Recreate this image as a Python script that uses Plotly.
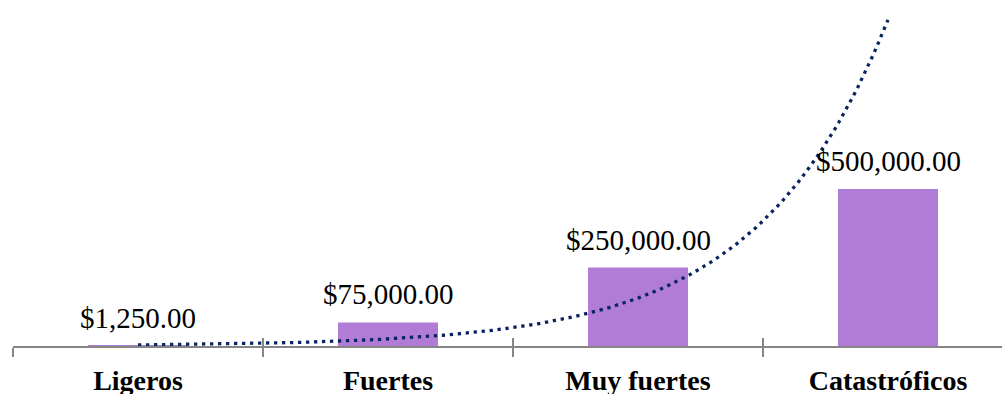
import numpy as np
import plotly.graph_objects as go

categories = ["Ligeros", "Fuertes", "Muy fuertes", "Catastróficos"]
values = [1250, 75000, 250000, 500000]
value_labels = ["$1,250.00", "$75,000.00", "$250,000.00", "$500,000.00"]
boundaries = [-0.5, 0.5, 1.5, 2.5, 3.5]

xpos = np.arange(len(categories))

# Exponential trendline (least squares on log values), as Excel computes it
b, ln_a = np.polyfit(xpos + 1, np.log(values), 1)
xt = np.linspace(0, len(categories) - 1, 200)
yt = np.exp(ln_a + b * (xt + 1))

FONT = "Liberation Serif"
GRAY = "#868686"
xrange_ = [-0.5, 3.456]
yrange_ = [0, 1101900]

fig = go.Figure()
fig.add_trace(go.Bar(x=xpos, y=values, width=0.4, marker=dict(color="#B07CD6", line=dict(width=0)),
                     showlegend=False, hoverinfo="skip"))
fig.add_trace(go.Scatter(x=xt, y=yt, mode="lines", xaxis="x2",
                         line=dict(color="#0B2460", width=3.3, dash="3.3px,4.7px"),
                         showlegend=False, hoverinfo="skip"))

for i, (v, t) in enumerate(zip(values, value_labels)):
    fig.add_annotation(x=i, y=v, text=t, showarrow=False, yanchor="bottom", yshift=10,
                       font=dict(family=FONT, size=29, color="#000000"))

fig.update_layout(
    width=1002, height=394,
    margin=dict(l=13, r=0, t=0, b=48),
    paper_bgcolor="white", plot_bgcolor="white",
    bargap=0.6,
    xaxis=dict(range=xrange_, tickmode="array", tickvals=list(xpos), ticktext=categories,
               ticks="", showline=True, linecolor=GRAY, linewidth=2, showgrid=False, zeroline=False,
               tickfont=dict(family=FONT, size=28, color="#000000", weight="bold"),
               ticklabelstandoff=8, automargin=False,
               minor=dict(tickmode="array", tickvals=boundaries, ticks="outside", ticklen=9,
                          tickcolor=GRAY, tickwidth=2, showgrid=False)),
    xaxis2=dict(range=xrange_, overlaying="x", anchor="y", side="bottom", tickmode="array",
                tickvals=boundaries, ticks="inside", ticklen=8, tickcolor=GRAY, tickwidth=2,
                showticklabels=False, showline=False, showgrid=False, zeroline=False),
    yaxis=dict(range=yrange_, visible=False, showgrid=False, zeroline=False),
)

fig.write_html("out.html", config={"displayModeBar": False},
               post_script="document.body.style.margin='0';document.body.style.overflow='hidden';")
